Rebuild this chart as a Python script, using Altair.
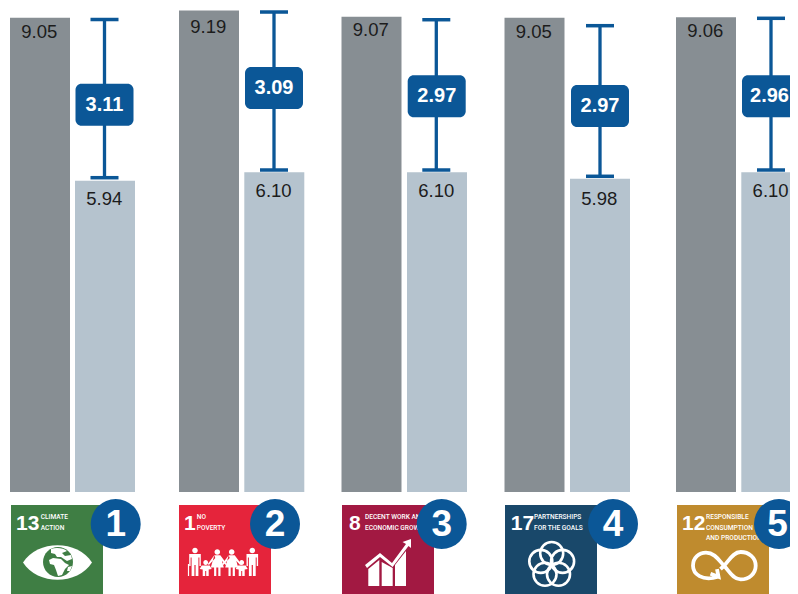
import altair as alt
import pandas as pd

# ---- values
goals = ["13", "1", "8", "17", "12"]
ranks = ["1", "2", "3", "4", "5"]
dark_values = [9.05, 9.19, 9.07, 9.05, 9.06]
light_values = [5.94, 6.10, 6.10, 5.98, 6.10]
gap_labels = ["3.11", "3.09", "2.97", "2.97", "2.96"]
whisker_hi = [9.017, 9.160, 9.013, 8.899, 9.040]
whisker_lo = [5.998, 6.145, 6.145, 6.025, 6.145]
box_mid = [7.391, 7.710, 7.552, 7.366, 7.552]
dark_label_at = [8.77, 8.88, 8.81, 8.78, 8.80]
light_label_at = [5.60, 5.75, 5.75, 5.60, 5.75]
tile_titles = [["CLIMATE", "ACTION"], ["NO", "POVERTY"],
               ["DECENT WORK AND", "ECONOMIC GROWTH"],
               ["PARTNERSHIPS", "FOR THE GOALS"],
               ["RESPONSIBLE", "CONSUMPTION", "AND PRODUCTION"]]

# ---- layout (page pixels)
dark_left = [10, 179, 341.5, 504.5, 676]
light_left = [75, 244.3, 407, 570, 741.3]
bar_w = 60
whisker_x = [104.5, 274, 436.3, 600, 771]
box_left = [75.5, 245, 407.7, 571, 742]
box_w = 58
gap_label_x = [104.5, 274, 436.8, 600, 769.5]
tile_left = [11, 179, 342, 505, 677]
tile_w = 92
tile_colors = ["#3F7E44", "#E5243B", "#A21942", "#19486A", "#BF8B2E"]
badge_x = [115.7, 275, 441.7, 613, 779]
rank_x = [115.7, 275, 441.7, 613, 777.5]
num_left = [16, 184, 349, 510.7, 682]
title_left = [40.7, 196.7, 365, 534, 706]
BLUE = "#0B5797"
DARK = "#878E93"
LIGHT = "#B5C3CE"
BASE_Y = 492
PX_PER_UNIT = 52.4


def v(py):
    return (BASE_Y - py) / PX_PER_UNIT


xs = alt.Scale(domain=[8, 790], nice=False, zero=False)
ys = alt.Scale(domain=[v(594), v(8)], nice=False, zero=False)
X = alt.X("x:Q", scale=xs, axis=None)
X2 = alt.X2("x2:Q")
Y = alt.Y("y:Q", scale=ys, axis=None)
Y2 = alt.Y2("y2:Q")
layers = []

# bars
for lefts, vals, col in ((dark_left, dark_values, DARK), (light_left, light_values, LIGHT)):
    d = pd.DataFrame({"x": lefts, "x2": [a + bar_w for a in lefts], "y": vals, "y2": [0] * 5})
    layers.append(alt.Chart(d).mark_rect(color=col).encode(x=X, x2=X2, y=Y, y2=Y2))

# bar labels
for lefts, vals, at in ((dark_left, dark_values, dark_label_at), (light_left, light_values, light_label_at)):
    d = pd.DataFrame({"x": [a + bar_w / 2 - 0.7 for a in lefts], "y": at, "t": [f"{q:.2f}" for q in vals]})
    layers.append(alt.Chart(d).mark_text(font="Liberation Sans", fontSize=18.5, color="#1c1c1c", baseline="middle").encode(x=X, y=Y, text="t:N"))

# whiskers
d = pd.DataFrame({"x": whisker_x, "y": whisker_hi, "y2": whisker_lo})
layers.append(alt.Chart(d).mark_rule(color=BLUE, strokeWidth=3.3).encode(x=X, y=Y, y2=Y2))
for arr in (whisker_hi, whisker_lo):
    d = pd.DataFrame({"x": [a - 14 for a in whisker_x], "x2": [a + 14 for a in whisker_x], "y": arr})
    layers.append(alt.Chart(d).mark_rule(color=BLUE, strokeWidth=3.5).encode(x=X, x2=X2, y=Y))

# gap boxes
half = 21 / PX_PER_UNIT
d = pd.DataFrame({"x": box_left, "x2": [a + box_w for a in box_left],
                  "y": [m + half for m in box_mid], "y2": [m - half for m in box_mid]})
layers.append(alt.Chart(d).mark_rect(color=BLUE, cornerRadius=6).encode(x=X, x2=X2, y=Y, y2=Y2))
d = pd.DataFrame({"x": gap_label_x, "y": box_mid, "t": gap_labels})
layers.append(alt.Chart(d).mark_text(font="Liberation Sans", fontWeight="bold", fontSize=20, color="white", baseline="middle").encode(x=X, y=Y, text="t:N"))

# tiles
d = pd.DataFrame({"x": tile_left, "x2": [a + tile_w for a in tile_left],
                  "y": [v(505)] * 5, "y2": [v(594)] * 5, "c": tile_colors})
layers.append(alt.Chart(d).mark_rect().encode(x=X, x2=X2, y=Y, y2=Y2, color=alt.Color("c:N", scale=None)))

# tile numbers and titles
d = pd.DataFrame({"x": num_left, "y": [v(523.5)] * 5, "t": goals})
layers.append(alt.Chart(d).mark_text(font="Liberation Sans", fontWeight="bold", fontSize=21, color="white", align="left", baseline="middle").encode(x=X, y=Y, text="t:N"))
rows = []
for left, lines in zip(title_left, tile_titles):
    for i, line in enumerate(lines):
        rows.append({"x": left, "y": v(517 + 10.6 * i), "t": line})
layers.append(alt.Chart(pd.DataFrame(rows)).mark_text(font="Roboto", fontSize=6.6, fontWeight=500, color="white", align="left", baseline="middle").encode(x=X, y=Y, text="t:N"))


# pictograms: paths in pixel units around their anchor (size=4 gives 1 unit = 1 px)
def circle_path(cx, cy, r):
    return f"M{cx - r},{cy} a{r},{r} 0 1 0 {2 * r},0 a{r},{r} 0 1 0 {-2 * r},0 Z"


def pict(path, xs_, ys_, **kw):
    d = pd.DataFrame({"x": xs_, "y": [v(q) for q in ys_]})
    opts = dict(shape=path, size=4, opacity=1)
    if kw.get("line"):
        opts.update(filled=False, color=kw.get("color", "white"), strokeWidth=kw["line"])
    else:
        opts.update(filled=True, color=kw.get("color", "white"), strokeWidth=0)
    return alt.Chart(d).mark_point(**opts).encode(x=X, y=Y)


# eye with globe
EYE = "M-34.5,0 C-20,-23 20,-23 34.5,0 C20,23 -20,23 -34.5,0 Z"
layers.append(pict(EYE, [57.5], [562.5]))
layers.append(pict(circle_path(0, 0, 15), [58], [562], color="#3F7E44"))
LAND = ("M-7,-13 C-2,-15 6,-14 9,-11 L4,-9 L7,-6 L13,-7 L14,-3 L9,-1 L6,-3 L3,-5 L-1,-5 L-3,-8 L-7,-9 Z "
        "M-5,-4 L3,-3 L7,1 L11,3 L7,7 L4,13 L0,14 L-2,8 L-4,3 L-8,2 L-9,-2 Z "
        "M10,5 L14,4 L12,9 L9,9 Z")
layers.append(pict(LAND, [58], [562]))

# family
MAN = (circle_path(0, -25.5, 2.8) +
       "M-5.8,-22 L5.8,-22 L5.8,-10 L4.4,-10 L4.4,-18.5 L3.4,-18.5 L3.4,0 L0.6,0 L0.6,-11 L-0.6,-11 L-0.6,0 L-3.4,0 L-3.4,-18.5 L-4.4,-18.5 L-4.4,-10 L-5.8,-10 Z")
WOMAN = (circle_path(0, -24, 2.8) +
         "M-3,-20.7 L3,-20.7 L6.5,-8.5 L3.2,-8.5 L3.2,0 L1,0 L1,-8.5 L-1,-8.5 L-1,0 L-3.2,0 L-3.2,-8.5 L-6.5,-8.5 Z"
         "M3,-20.7 L9.5,-12 L8.4,-11 L2,-18 Z M-3,-20.7 L-9.5,-12 L-8.4,-11 L-2,-18 Z")
CHILD = (circle_path(0, -13.5, 2.4) +
         "M-4,-10.5 L4,-10.5 L6,-7 L3,-6.5 L3,0 L0.5,0 L0.5,-5 L-0.5,-5 L-0.5,0 L-3,0 L-3,-6.5 L-6,-7 Z")
CANE = "M-0.6,0 L-0.6,-12 L0.6,-12 L0.6,0 Z"
layers.append(pict(MAN, [195, 252.3], [576, 576]))
layers.append(pict(WOMAN, [217.3, 231.7], [576, 576]))
layers.append(pict(CHILD, [205.7, 241.7], [576, 576]))
layers.append(pict(CANE, [188.5], [576]))

# growth chart
GROWTH = ("M-18.7,21 L-18.7,4 L-7.7,-5 L-7.7,21 Z M-5.3,21 L-5.3,-3 L5.7,3 L5.7,21 Z M8,21 L8,0 L19,-14 L19,21 Z "
          "M-22,0 L-7,-12 L5,-2 L19,-21 L15.5,-23 L24,-26 L24,-17 L21.5,-19 L5.6,2 L-7,-8 L-20,3 Z")
layers.append(pict(GROWTH, [387], [565]))

# partnership rings
ring_x = [551.7, 562.6, 558.5, 545, 540.8]
ring_y = [553.5, 561.4, 574.3, 574.3, 561.4]
d = pd.DataFrame({"x": ring_x, "y": [v(q) for q in ring_y]})
layers.append(alt.Chart(d).mark_point(shape="circle", size=529, filled=False, color="white", strokeWidth=2.6, opacity=1).encode(x=X, y=Y))

# infinity loop
LOOP = ("M-6,11 C-22,16 -31,8 -31,0 C-31,-8 -25,-13 -18,-13 C-9,-13 -5,-5 0,0 C5,5 9,13.7 16.7,13.7 "
        "C25,13.7 31.7,8 31.7,0 C31.7,-8 25,-13.7 16.7,-13.7 C9,-13.7 5,-5 0,0 L-3.5,3.5 M-7,3.5 L-5.5,11 L-13.5,8")
layers.append(pict(LOOP, [724], [565.7], line=3.8))

# rank badges
d = pd.DataFrame({"x": badge_x, "y": [v(524)] * 5})
layers.append(alt.Chart(d).mark_circle(size=2500, color=BLUE, opacity=1).encode(x=X, y=Y))
d = pd.DataFrame({"x": rank_x, "y": [v(525)] * 5, "t": ranks})
layers.append(alt.Chart(d).mark_text(font="Liberation Sans", fontWeight="bold", fontSize=37, color="white", baseline="middle").encode(x=X, y=Y, text="t:N"))

chart = alt.layer(*layers).properties(
    width=782, height=586, padding=0, background="white",
    autosize=alt.AutoSizeParams(type="none", contains="padding"),
).configure_view(stroke=None)

chart.save("out.html", embed_options={"renderer": "svg", "actions": False})
